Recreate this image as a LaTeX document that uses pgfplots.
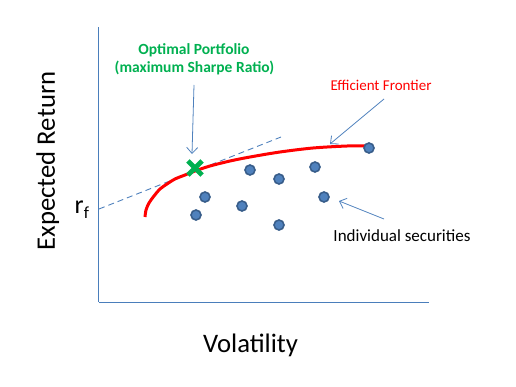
\documentclass[border=0pt]{standalone}
\usepackage{pgfplots}
\pgfplotsset{compat=1.18}
\usepackage{fontspec}
\setmainfont{Carlito}
\usetikzlibrary{arrows.meta}
\definecolor{axblue}{HTML}{4A7EBB}
\definecolor{dotblue}{HTML}{4F81BD}
\definecolor{dotedge}{HTML}{385D8A}
\definecolor{optgreen}{HTML}{00B050}
\begin{document}
\begin{tikzpicture}
\begin{axis}[
  width=330bp, height=275bp, scale only axis,
  xmin=99, xmax=429, ymin=-302, ymax=-27,
  axis x line=bottom, axis y line=left,
  axis line style={draw=axblue, line width=1bp, -},
  xtick=\empty, ytick=\empty,
  clip=false,
]
\coordinate (bbSW) at (axis cs:0,-386);
\coordinate (bbNE) at (axis cs:516,0);
% tangent (capital market line)
\addplot[dotblue, line width=0.9bp, dash pattern=on 6bp off 4bp] coordinates {(99,-209) (281,-137)};
% efficient frontier
\addplot[red, line width=3bp, smooth, tension=0.5] coordinates {
(145,-217) (146,-210) (149,-203) (154,-196) (160,-189) (167,-184) (175,-179)
(185,-175) (195,-171) (210,-166) (230,-161) (250,-157) (280,-152) (313,-148)
(347,-146) (366,-146)};
% individual securities
\addplot[only marks, mark=*, mark size=5bp, mark options={fill=dotblue, draw=dotedge, line width=1.6bp}] coordinates {
(250,-170) (279,-179) (315,-167) (369,-148) (205,-197) (242,-206) (196,-215) (324,-197) (279,-225)};
% optimal portfolio
\addplot[only marks, mark=x, mark size=10bp, mark options={draw=optgreen, line width=4.8bp}] coordinates {(195,-168)};
% arrows
\draw[dotblue, line width=0.8bp, -{Straight Barb[length=6bp,width=11bp]}] (axis cs:194,-85) -- (axis cs:192,-154);
\draw[dotblue, line width=0.8bp, -{Straight Barb[length=6bp,width=11bp]}] (axis cs:384,-99) -- (axis cs:330,-144);
\draw[dotblue, line width=0.8bp, -{Straight Barb[length=6bp,width=11bp]}] (axis cs:384,-219) -- (axis cs:339,-201);
% texts
\node[anchor=base, inner sep=0pt, font=\fontsize{26.7bp}{32bp}\selectfont] at (axis cs:250.5,-352) {Volatility};
\node[anchor=base, inner sep=0pt, rotate=90, font=\fontsize{26.7bp}{32bp}\selectfont] at (axis cs:55,-161) {Expected Return};
\node[anchor=base west, inner sep=0pt, font=\fontsize{26bp}{30bp}\selectfont] at (axis cs:74.5,-213) {r\raisebox{-5bp}{\fontsize{17bp}{20bp}\selectfont f}};
\node[anchor=base, inner sep=0pt, text=optgreen, font=\fontsize{15.5bp}{18bp}\selectfont\bfseries] at (axis cs:194,-55) {Optimal Portfolio};
\node[anchor=base, inner sep=0pt, text=optgreen, font=\fontsize{15.5bp}{18bp}\selectfont\bfseries] at (axis cs:194.5,-73) {(maximum Sharpe Ratio)};
\node[anchor=base, inner sep=0pt, text=red, font=\fontsize{15bp}{18bp}\selectfont] at (axis cs:381,-91) {Efficient Frontier};
\node[anchor=base, inner sep=0pt, text=black, font=\fontsize{17bp}{20bp}\selectfont] at (axis cs:402,-241) {Individual securities};
\end{axis}
\pgfresetboundingbox
\path[use as bounding box] (bbSW) rectangle (bbNE);
\end{tikzpicture}
\end{document}
